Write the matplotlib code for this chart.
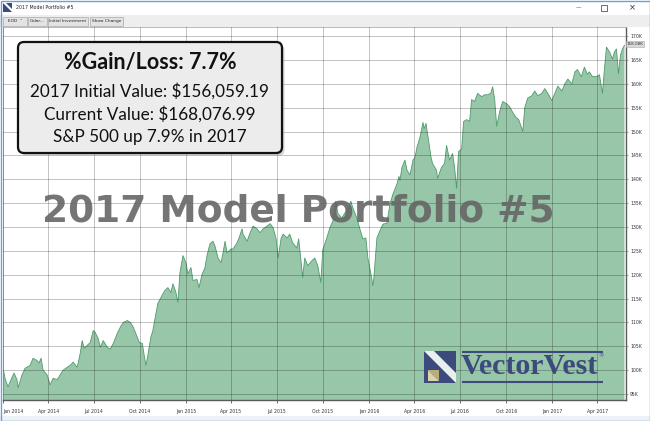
import matplotlib.pyplot as plt
import pandas as pd
from matplotlib.patches import Rectangle, FancyBboxPatch, Polygon

# days since 2014-01-01 and portfolio value in $K
day_offset = [
    1, 4, 10, 18, 22, 28, 30, 38, 44, 54, 60, 68, 72, 76, 80, 88, 94, 100, 108, 114,
    120, 128, 134, 140, 148, 154, 158, 162, 168, 174, 180, 184, 190,
    194, 200, 208, 214, 220, 228, 234, 240, 248, 254, 260, 268, 272, 278, 280, 285, 289, 295,
    299, 305, 309, 317, 323, 329, 335, 339, 345, 349, 353, 359, 365, 369, 375, 379, 387, 391,
    397, 403, 407, 413, 419, 423, 429, 435, 439, 443, 447, 455, 459, 467, 471, 477, 479, 487,
    493, 499, 507, 513, 519, 527, 533, 539, 545, 549, 555, 559, 567, 572, 578, 586, 590, 596,
    598, 602, 608, 616, 622, 628, 634, 638, 646, 652, 658, 664, 668, 676, 682, 688, 694, 698,
    706, 712, 718, 724, 728, 734, 738, 740, 746, 752, 758, 766, 772, 778, 786, 790,
    792, 796, 802, 806, 812, 818, 822, 826, 832, 838, 840, 844, 848, 854, 857, 865, 867, 875,
    881, 885, 891, 897, 901, 905, 909, 915, 919, 925, 931, 935, 941, 947, 955, 961, 967, 973,
    977, 981, 985, 991, 997, 1005, 1011,
    1017, 1023, 1029, 1037, 1041, 1047, 1055, 1061, 1067, 1075, 1081, 1087, 1095, 1101, 1107,
    1115, 1121, 1127, 1135, 1141, 1146, 1154, 1160, 1166, 1170, 1176, 1184, 1190, 1196, 1200,
    1204, 1210, 1216, 1220, 1224, 1228, 1232, 1236, 1240,
]
value_k = [
    100, 98.3, 96.5, 98.5, 99.4, 98, 96.3, 99, 100.4, 101, 102.5, 102, 101.5, 102.5, 100, 99, 96.9, 98.3, 98, 99,
    100, 100.6, 101, 101.7, 100.6, 103.5, 106.2, 104.6, 105.2, 105.8, 108.3, 107.9, 106.6,
    104.8, 106.2, 104.8, 104.4, 105.6, 107.7, 109, 110, 110.4, 110, 109, 106.9, 105.8, 105.6, 104.2, 101, 103.1, 106.9,
    108.3, 111.8, 114, 115.6, 116.7, 117.3, 116.3, 118.1, 116.3, 114.2, 120.4, 124, 122.5, 120.2, 121.5, 118.8, 119, 117.3,
    120, 121.5, 124, 126.5, 127, 126, 123.5, 122.5, 124.6, 127, 124.6, 125.4, 125.4, 126.7, 127.7, 129.6, 128.5, 127,
    128.8, 130.2, 129.6, 128.8, 129.6, 130.2, 130.7, 129.8, 127.5, 123.5, 127.7, 128.5, 127.7, 128.5, 126.7, 125.6, 127.5, 121.5,
    119.4, 123.5, 121.9, 122.9, 123.5, 121.9, 118.4, 125.2, 127.7, 129.8, 131.2, 135.4, 132.9, 131.9, 132.9, 133.8, 135.4, 134,
    131.9, 129.6, 127.5, 127.7, 123.5, 120.2, 117.7, 119.4, 127.7, 129.2, 130.6, 130.8, 134.8, 136.9, 139, 140.6,
    139.8, 142.5, 144, 141.9, 140.9, 144, 144.6, 146.7, 148.8, 151.9, 150.6, 151.7, 148.8, 144.6, 143.3, 141.9, 140.2, 142.5,
    143.3, 147.1, 144, 145.4, 142.5, 138.1, 145.8, 146.3, 152.1, 152.5, 152.1, 156.7, 156.3, 158, 157.3, 157.7, 157.7, 158,
    159.4, 156.7, 151.1, 154.2, 156.3, 155.8, 155.2,
    154, 153, 152.5, 150, 155, 157, 157.5, 158.5, 157.5, 158, 159, 158, 156.5, 158, 159.5,
    158.5, 160, 161, 160, 162.5, 163, 161.5, 163.5, 162, 162.5, 161.5, 161.5, 161.9, 158, 163.1,
    167.7, 166.7, 165.2, 166.7, 167.3, 162.1, 166, 167.3, 168.08,
]

quarter_ticks = ["2014-01-01", "2014-04-01", "2014-07-01", "2014-10-01", "2015-01-01",
                 "2015-04-01", "2015-07-01", "2015-10-01", "2016-01-01", "2016-04-01",
                 "2016-07-01", "2016-10-01", "2017-01-01", "2017-04-01"]
quarter_labels = ["Jan 2014", "Apr 2014", "Jul 2014", "Oct 2014", "Jan 2015", "Apr 2015",
                  "Jul 2015", "Oct 2015", "Jan 2016", "Apr 2016", "Jul 2016", "Oct 2016",
                  "Jan 2017", "Apr 2017"]
y_ticks = [95, 100, 105, 110, 115, 120, 125, 130, 135, 140, 145, 150, 155, 160, 165, 170]
y_labels = ["95K", "100K", "105K", "110K", "115K", "120K", "125K", "130K", "135K", "140K",
            "145K", "150K", "155K", "160K", "165K", "170K"]

box_lines = ["2017 Initial Value: $156,059.19", "Current Value: $168,076.99",
             "S&P 500 up 7.9% in 2017"]

W, H = 650, 421
fig = plt.figure(figsize=(6.5, 4.21), dpi=100, facecolor="white")

# main chart
ax = fig.add_axes([3 / W, 1 - 400 / H, 623 / W, 373 / H])
dates = pd.Timestamp("2014-01-01") + pd.to_timedelta(day_offset, unit="D")
ax.fill_between(dates, value_k, 0, color="#97c6a8", lw=0)
ax.plot(dates, value_k, color="#4f9b6d", lw=0.6)
ax.set_xlim(pd.Timestamp("2014-01-01"), pd.Timestamp("2014-01-01") + pd.Timedelta(days=1243))
ax.set_ylim(93.75, 171.9)

ax.set_xticks(pd.to_datetime(quarter_ticks))
ax.set_xticklabels(quarter_labels, fontsize=3.3, color="#333333")
ax.get_xticklabels()[0].set_horizontalalignment("left")
ax.yaxis.tick_right()
ax.set_yticks(y_ticks)
ax.set_yticklabels(y_labels, fontsize=3.3, color="#333333")
ax.tick_params(axis="x", length=2.5, width=0.6, pad=4, color="#555555")
ax.tick_params(axis="y", length=1.5, width=0.6, pad=1.5, color="#888888")
ax.grid(True, color="black", alpha=0.24, lw=0.7)
ax.set_axisbelow(False)
for s in ["right", "bottom"]:
    ax.spines[s].set_color("#5a5a5a")
    ax.spines[s].set_linewidth(1.0)
for s in ["top", "left"]:
    ax.spines[s].set_color("#b0b0b0")
    ax.spines[s].set_linewidth(0.6)

# overlay in pixel coordinates for window chrome, box, watermark and logo
ov = fig.add_axes([0, 0, 1, 1], zorder=5)
ov.set_xlim(0, W)
ov.set_ylim(H, 0)
ov.axis("off")

# title bar
ov.add_patch(Rectangle((0, 0), W, 15, fc="white", ec="none"))
ov.add_patch(Rectangle((3, 3), 9, 9, fc="#3c4a7c", ec="none"))
ov.add_patch(Polygon([(3, 3), (6, 3), (12, 9), (12, 12)], closed=True, fc="white", ec="none"))
ov.text(16, 7.5, "2017 Model Portfolio #5", fontsize=3.4, va="center", ha="left", color="#222222")
ov.text(578, 7.5, "\u2014", fontsize=4, va="center", ha="center", color="#333333")
ov.add_patch(Rectangle((601, 4.5), 6, 6, fc="none", ec="#333333", lw=0.5))
ov.text(632, 7.5, "\u00d7", fontsize=6, va="center", ha="center", color="#333333")

# toolbar
ov.add_patch(Rectangle((0, 15), W, 12, fc="#eeeeee", ec="none"))
buttons = [(3, 24, "EOD  \u02c5"), (28, 19, "Color..."), (48, 40, "Initial Investment"),
           (90, 33, "Show Change")]
for bx, bw, lab in buttons:
    ov.add_patch(Rectangle((bx, 16.5), bw, 9, fc="#e3e3e3", ec="#a8a8a8", lw=0.5))
    ov.text(bx + bw / 2, 21, lab, fontsize=3.1, ha="center", va="center", color="#222222")

# current value marker on the right axis
ov.text(635, 44, "168.08K", fontsize=3, ha="center", va="center", color="#333333",
        bbox=dict(boxstyle="square,pad=0.25", fc="#d9d9d9", ec="#aaaaaa", lw=0.4))

# bottom status strip and window border
ov.add_patch(Rectangle((0, 416), W, 5, fc="#eef1f5", ec="none"))
ov.add_patch(Rectangle((0.5, 0.5), W - 1, H - 1, fc="none", ec="#6d9fd8", lw=1.0))

# watermark
ov.text(298, 212, "2017 Model Portfolio #5", fontsize=27, fontweight="bold",
        color="#666666", alpha=0.9, ha="center", va="center", family="DejaVu Sans")

# info box
ov.add_patch(FancyBboxPatch((20.5, 44.5), 264, 111, boxstyle="round,pad=0,rounding_size=6",
                            fc="#9a9a9a", ec="none", alpha=0.45))
ov.add_patch(FancyBboxPatch((18, 42), 264, 111, boxstyle="round,pad=0,rounding_size=6",
                            fc="#ececec", ec="#111111", lw=1.6))
ov.text(150, 62, "%Gain/Loss: 7.7%", fontsize=15.5, fontweight="bold", family="Lato",
        ha="center", va="center", color="#111111")
for yy, line in zip([91, 114, 137], box_lines):
    ov.text(150, yy, line, fontsize=12.3, family="Lato", ha="center", va="center",
            color="#111111")

# VectorVest logo
navy = "#3c4a7c"
ov.add_patch(Rectangle((424, 351), 32, 32, fc=navy, ec="none"))
ov.add_patch(Polygon([(424, 351), (434, 351), (456, 373), (456, 383)], closed=True,
                     fc="#e8f0ee", ec="none"))
ov.add_patch(Polygon([(428, 370), (439, 370), (439, 381)], closed=True, fc="#b9ad78", ec="none"))
ov.add_patch(Polygon([(428, 370), (439, 381), (428, 381)], closed=True, fc="#dcd3a8", ec="none"))
ov.plot([462, 603], [352, 352], color=navy, lw=1.5, solid_capstyle="butt")
ov.plot([462, 603], [382, 382], color=navy, lw=1.5, solid_capstyle="butt")
ov.text(529, 367, "VectorVest", fontsize=21.5, family="Liberation Serif", color=navy,
        ha="center", va="center", fontweight="semibold")
ov.text(601, 356, "\u00ae", fontsize=4, color=navy, ha="center", va="center")

fig.savefig("out.png", dpi=100, facecolor="white")
